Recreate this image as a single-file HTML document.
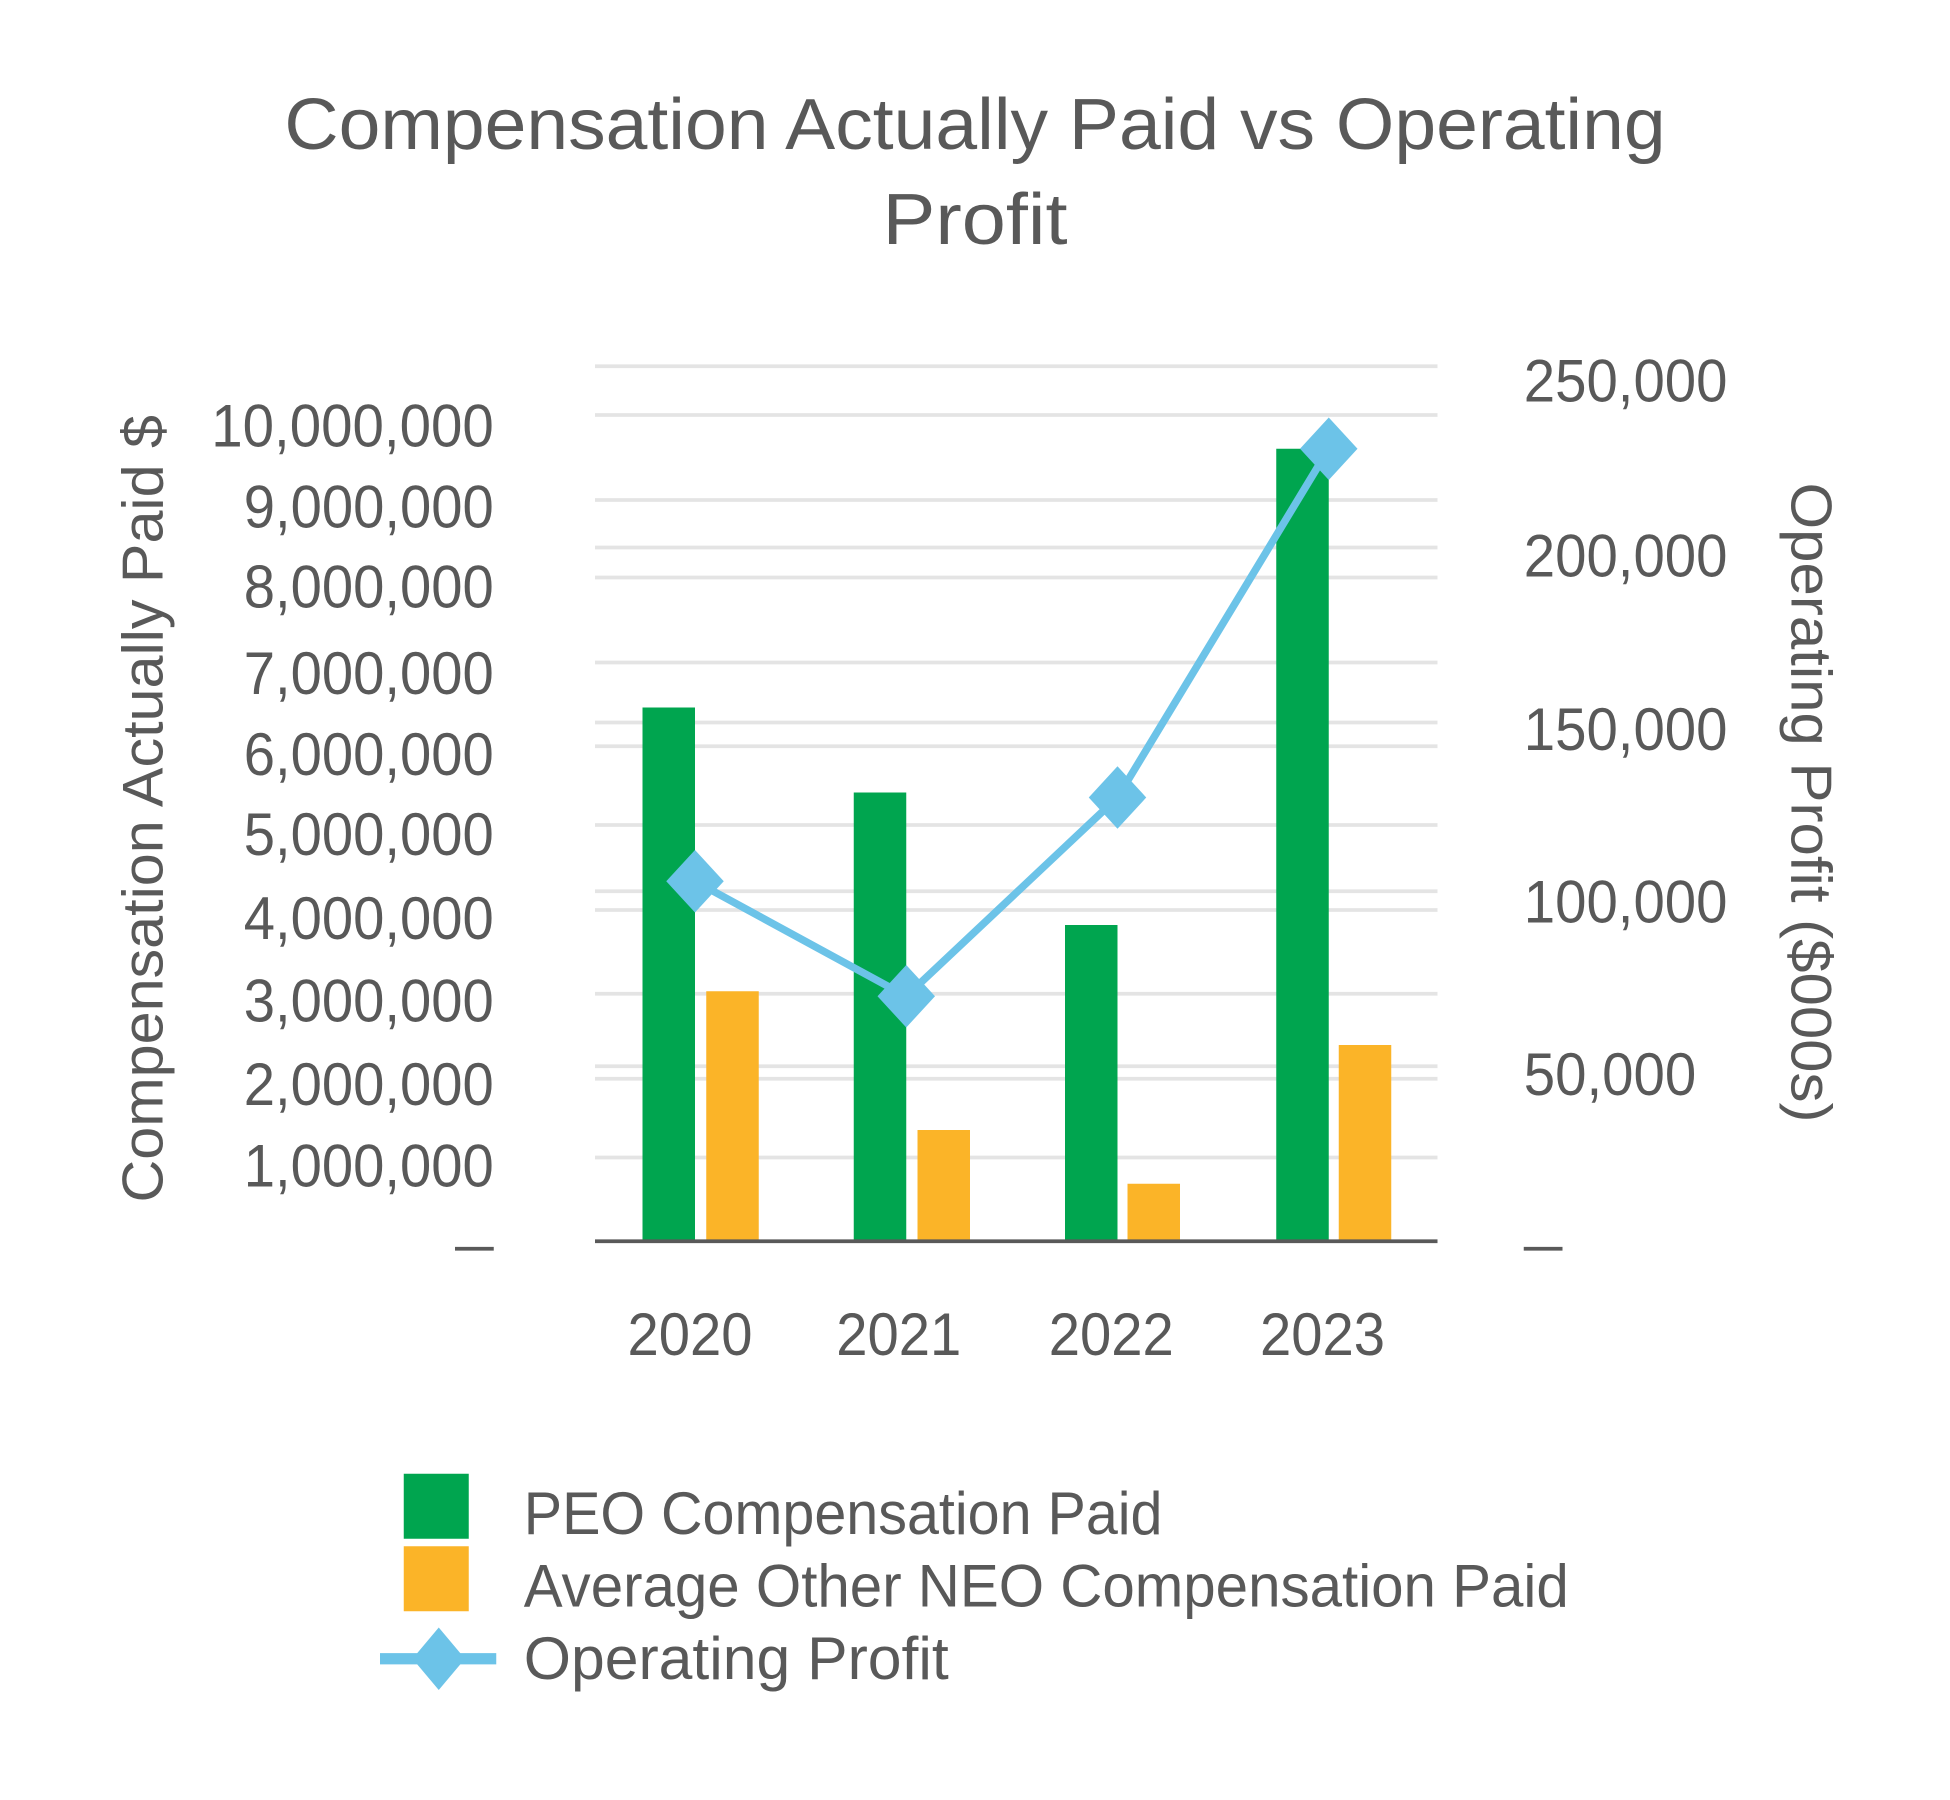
<!DOCTYPE html>
<html><head><style>html,body{margin:0;padding:0;background:#fff}svg{display:block}text{font-family:"Liberation Sans",sans-serif;fill:#595959}</style></head>
<body>
<svg width="1950" height="1800" viewBox="0 0 1560 1440" xmlns="http://www.w3.org/2000/svg">
<rect width="1560" height="1440" fill="#fff"/>
<g transform="translate(-3,-3)">
<text x="783" y="122" font-size="58" text-anchor="middle" textLength="1105" lengthAdjust="spacingAndGlyphs">Compensation Actually Paid vs Operating</text>
<text x="783" y="198" font-size="58" text-anchor="middle" textLength="148" lengthAdjust="spacingAndGlyphs">Profit</text>
<g stroke="#e4e4e4" stroke-width="3">
<line x1="479" x2="1153" y1="296" y2="296"/><line x1="479" x2="1153" y1="335" y2="335"/>
<line x1="479" x2="1153" y1="403" y2="403"/><line x1="479" x2="1153" y1="441" y2="441"/>
<line x1="479" x2="1153" y1="465" y2="465"/><line x1="479" x2="1153" y1="533" y2="533"/>
<line x1="479" x2="1153" y1="581" y2="581"/><line x1="479" x2="1153" y1="600" y2="600"/>
<line x1="479" x2="1153" y1="663" y2="663"/><line x1="479" x2="1153" y1="716" y2="716"/>
<line x1="479" x2="1153" y1="731" y2="731"/><line x1="479" x2="1153" y1="798" y2="798"/>
<line x1="479" x2="1153" y1="856" y2="856"/><line x1="479" x2="1153" y1="866" y2="866"/>
<line x1="479" x2="1153" y1="929" y2="929"/>
</g>
<g fill="#00a54f">
<rect x="517" y="569" width="42" height="426"/><rect x="686" y="637" width="42" height="358"/>
<rect x="855" y="743" width="42" height="252"/><rect x="1024" y="362" width="42" height="633"/>
</g>
<g fill="#fbb428">
<rect x="568" y="796" width="42" height="199"/><rect x="737" y="907" width="42" height="88"/>
<rect x="905" y="950" width="42" height="45"/><rect x="1074" y="839" width="42" height="156"/>
</g>
<line x1="479" x2="1153" y1="996" y2="996" stroke="#595959" stroke-width="3"/>
<polyline points="559,708 728,800 897,641 1066,362" fill="none" stroke="#6cc3e8" stroke-width="6"/>
<g fill="#6cc3e8">
<polygon points="559,683 582,708 559,733 536,708"/>
<polygon points="728,775 751,800 728,825 705,800"/>
<polygon points="897,616 920,641 897,666 874,641"/>
<polygon points="1066,337 1089,362 1066,387 1043,362"/>
</g>
<g font-size="48" text-anchor="end">
<text x="398" y="360" textLength="226" lengthAdjust="spacingAndGlyphs">10,000,000</text>
<text x="398" y="425" textLength="200" lengthAdjust="spacingAndGlyphs">9,000,000</text>
<text x="398" y="489" textLength="200" lengthAdjust="spacingAndGlyphs">8,000,000</text>
<text x="398" y="558" textLength="200" lengthAdjust="spacingAndGlyphs">7,000,000</text>
<text x="398" y="623" textLength="200" lengthAdjust="spacingAndGlyphs">6,000,000</text>
<text x="398" y="687" textLength="200" lengthAdjust="spacingAndGlyphs">5,000,000</text>
<text x="398" y="754" textLength="200" lengthAdjust="spacingAndGlyphs">4,000,000</text>
<text x="398" y="820" textLength="200" lengthAdjust="spacingAndGlyphs">3,000,000</text>
<text x="398" y="887" textLength="200" lengthAdjust="spacingAndGlyphs">2,000,000</text>
<text x="398" y="952" textLength="200" lengthAdjust="spacingAndGlyphs">1,000,000</text>
</g>
<line x1="367" x2="398" y1="1002" y2="1002" stroke="#595959" stroke-width="3"/>
<g font-size="48">
<text x="1222" y="324" textLength="163" lengthAdjust="spacingAndGlyphs">250,000</text>
<text x="1222" y="464" textLength="163" lengthAdjust="spacingAndGlyphs">200,000</text>
<text x="1222" y="603" textLength="163" lengthAdjust="spacingAndGlyphs">150,000</text>
<text x="1222" y="741" textLength="163" lengthAdjust="spacingAndGlyphs">100,000</text>
<text x="1222" y="879" textLength="138" lengthAdjust="spacingAndGlyphs">50,000</text>
</g>
<line x1="1222" x2="1253" y1="1002" y2="1002" stroke="#595959" stroke-width="3"/>
<text transform="translate(133,650) rotate(-90)" font-size="46" text-anchor="middle" textLength="630" lengthAdjust="spacingAndGlyphs">Compensation Actually Paid $</text>
<text transform="translate(1436,645) rotate(90)" font-size="46" text-anchor="middle" textLength="512" lengthAdjust="spacingAndGlyphs">Operating Profit ($000s)</text>
<g font-size="48" text-anchor="middle">
<text x="555" y="1087" textLength="100" lengthAdjust="spacingAndGlyphs">2020</text>
<text x="722" y="1087" textLength="100" lengthAdjust="spacingAndGlyphs">2021</text>
<text x="892" y="1087" textLength="100" lengthAdjust="spacingAndGlyphs">2022</text>
<text x="1061" y="1087" textLength="100" lengthAdjust="spacingAndGlyphs">2023</text>
</g>
<rect x="326" y="1182" width="52" height="52" fill="#00a54f"/>
<rect x="326" y="1240" width="52" height="52" fill="#fbb428"/>
<line x1="307" x2="400" y1="1330" y2="1330" stroke="#6cc3e8" stroke-width="9"/>
<polygon points="354,1305 375,1330 354,1355 333,1330" fill="#6cc3e8"/>
<g font-size="48">
<text x="422" y="1230" textLength="511" lengthAdjust="spacingAndGlyphs">PEO Compensation Paid</text>
<text x="422" y="1288" textLength="836" lengthAdjust="spacingAndGlyphs">Average Other NEO Compensation Paid</text>
<text x="422" y="1346" textLength="340" lengthAdjust="spacingAndGlyphs">Operating Profit</text>
</g>
</g>
</svg>
</body></html>
